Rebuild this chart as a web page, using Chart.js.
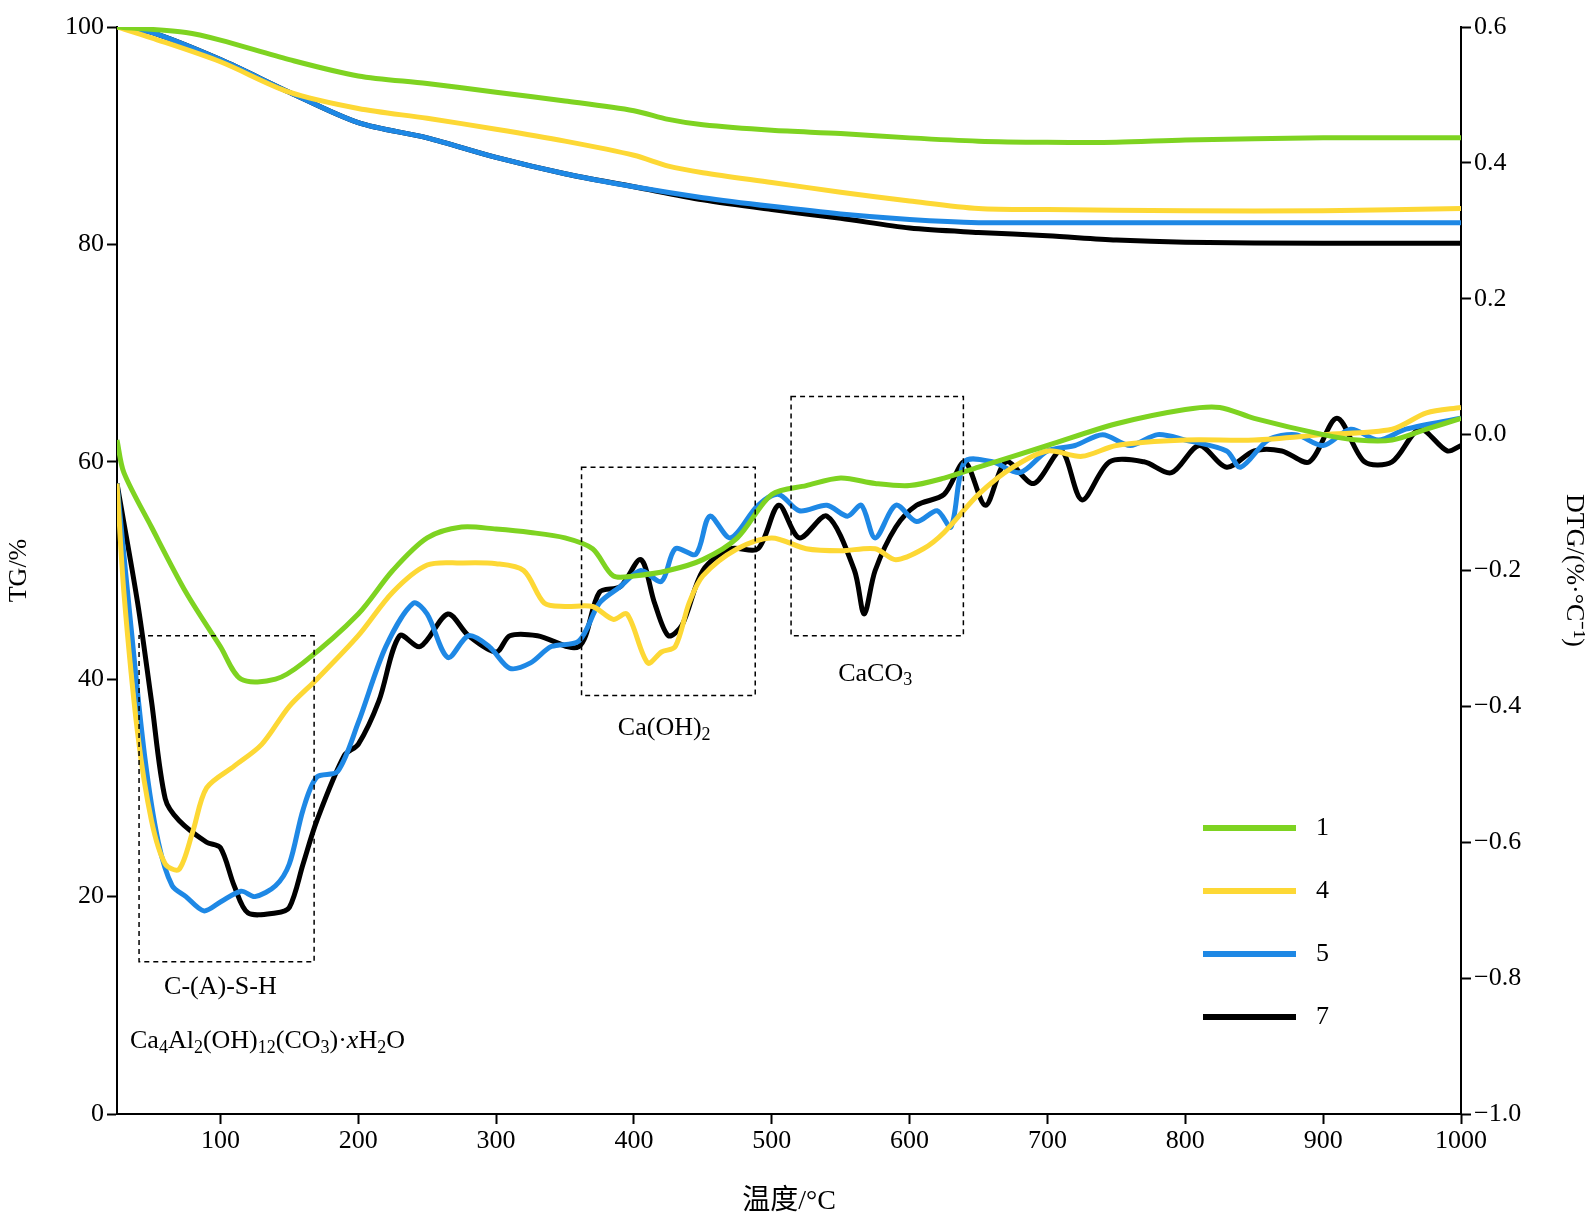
<!DOCTYPE html>
<html>
<head>
<meta charset="utf-8">
<script src="https://cdn.jsdelivr.net/npm/chart.js@4"></script>
<style>
  body { margin: 0; background: #fff; }
  #wrap { width: 1593px; height: 1222px; }
</style>
</head>
<body>
<div id="wrap"><canvas id="c" width="1593" height="1222"></canvas></div>
<script>
// TG curves (%), x = temperature (°C)
const tgX1 = [25, 75, 100, 150, 200, 250, 300, 350, 400, 425, 450, 500, 550, 600, 650, 700, 750, 800, 900, 1000];
const tg1 = [100, 99.5, 98.8, 97, 95.5, 94.8, 94, 93.2, 92.3, 91.5, 91, 90.5, 90.2, 89.8, 89.5, 89.4, 89.4, 89.6, 89.8, 89.8];
const tgX4 = [25, 50, 100, 150, 200, 250, 300, 350, 400, 425, 450, 500, 550, 600, 650, 700, 800, 900, 1000];
const tg4 = [100, 99, 96.8, 94, 92.5, 91.6, 90.6, 89.5, 88.2, 87.2, 86.6, 85.7, 84.8, 84, 83.3, 83.2, 83.1, 83.1, 83.3];
const tgX5 = [25, 50, 100, 150, 200, 250, 300, 350, 400, 450, 500, 550, 600, 650, 700, 800, 1000];
const tg5 = [100, 99.5, 97, 94, 91.2, 89.8, 88, 86.5, 85.3, 84.3, 83.5, 82.8, 82.3, 82, 82, 82, 82];
const tgX7 = [25, 50, 100, 150, 200, 250, 300, 350, 400, 450, 500, 550, 600, 650, 700, 750, 800, 900, 1000];
const tg7 = [100, 99.5, 97, 94, 91.2, 89.8, 88, 86.5, 85.3, 84.1, 83.2, 82.4, 81.5, 81.1, 80.8, 80.4, 80.2, 80.1, 80.1];

// DTG curves (%·°C⁻¹)
const dtgX1 = [25, 30, 50, 75, 100, 115, 140, 160, 200, 225, 250, 275, 300, 325, 350, 370, 385, 400, 425, 450, 475, 500, 525, 550, 575, 600, 625, 650, 700, 750, 800, 825, 850, 900, 925, 950, 975, 1000];
const dtg1 = [-0.008, -0.056, -0.136, -0.232, -0.312, -0.36, -0.36, -0.336, -0.264, -0.2, -0.152, -0.136, -0.139, -0.144, -0.152, -0.168, -0.208, -0.208, -0.2, -0.184, -0.152, -0.088, -0.075, -0.064, -0.072, -0.075, -0.064, -0.048, -0.016, 0.016, 0.037, 0.04, 0.024, 0, -0.008, -0.008, 0.008, 0.024];
const dtgX4 = [25, 30, 40, 50, 60, 70, 80, 90, 110, 130, 150, 170, 200, 225, 250, 275, 300, 320, 335, 350, 370, 385, 395, 410, 420, 430, 440, 450, 475, 500, 525, 550, 575, 590, 610, 625, 650, 675, 700, 725, 750, 800, 850, 900, 950, 975, 1000];
const dtg4 = [-0.072, -0.232, -0.44, -0.568, -0.632, -0.64, -0.584, -0.52, -0.488, -0.456, -0.4, -0.36, -0.296, -0.232, -0.192, -0.189, -0.19, -0.2, -0.248, -0.253, -0.253, -0.272, -0.264, -0.336, -0.32, -0.312, -0.248, -0.208, -0.168, -0.152, -0.168, -0.171, -0.168, -0.184, -0.168, -0.144, -0.088, -0.048, -0.024, -0.032, -0.016, -0.008, -0.008, 0, 0.008, 0.032, 0.04];
const dtgX5 = [25, 35, 45, 55, 65, 75, 88, 100, 115, 125, 140, 150, 160, 170, 185, 200, 220, 240, 250, 265, 280, 295, 310, 325, 340, 360, 375, 390, 405, 420, 430, 445, 455, 470, 490, 505, 520, 540, 555, 565, 575, 590, 605, 620, 630, 640, 660, 680, 700, 720, 740, 760, 780, 800, 830, 840, 860, 880, 900, 920, 940, 960, 1000];
const dtg5 = [-0.072, -0.28, -0.472, -0.6, -0.664, -0.68, -0.701, -0.688, -0.672, -0.68, -0.664, -0.632, -0.552, -0.504, -0.496, -0.424, -0.312, -0.248, -0.264, -0.328, -0.296, -0.312, -0.344, -0.336, -0.312, -0.304, -0.248, -0.224, -0.2, -0.216, -0.168, -0.176, -0.12, -0.152, -0.104, -0.088, -0.112, -0.104, -0.12, -0.104, -0.152, -0.104, -0.128, -0.112, -0.136, -0.04, -0.04, -0.056, -0.024, -0.016, 0, -0.016, 0, -0.008, -0.024, -0.048, -0.008, 0, -0.016, 0.008, -0.008, 0.008, 0.024];
const dtgX7 = [25, 40, 50, 60, 70, 90, 100, 110, 120, 140, 150, 160, 170, 190, 200, 215, 230, 245, 265, 280, 300, 310, 330, 360, 375, 390, 405, 415, 425, 435, 450, 470, 490, 505, 520, 540, 560, 567, 575, 590, 605, 625, 640, 655, 670, 690, 710, 725, 745, 770, 790, 810, 830, 850, 870, 890, 910, 930, 950, 970, 990, 1000];
const dtg7 = [-0.072, -0.248, -0.392, -0.536, -0.568, -0.6, -0.608, -0.664, -0.704, -0.704, -0.696, -0.632, -0.568, -0.472, -0.456, -0.392, -0.296, -0.312, -0.264, -0.296, -0.32, -0.296, -0.296, -0.312, -0.232, -0.224, -0.184, -0.248, -0.296, -0.28, -0.2, -0.168, -0.168, -0.104, -0.152, -0.12, -0.2, -0.264, -0.2, -0.136, -0.104, -0.088, -0.04, -0.104, -0.04, -0.072, -0.024, -0.096, -0.04, -0.04, -0.056, -0.016, -0.048, -0.024, -0.024, -0.04, 0.024, -0.04, -0.04, 0.008, -0.024, -0.016];

const seriesNames = ["1", "4", "5", "7"];
const seriesColors = ["#7ed321", "#fdd835", "#1e88e5", "#000000"];

// dashed boxes [x0, x1, tgTop, tgBottom]
const boxes = [[41, 168, 44, 14], [362, 488, 59.5, 38.5], [514, 639, 66, 44]];

const FONT = "'Liberation Serif', 'Noto Sans CJK SC', serif";

const pts = (xs, ys) => xs.map((x, i) => ({ x: x, y: ys[i] }));
const line = (label, data, color, axis) => ({
  label: label, data: data, borderColor: color, borderWidth: 5,
  pointRadius: 0, fill: false, tension: 0.3, yAxisID: axis
});

const datasets = [
  line("1", pts(tgX1, tg1), seriesColors[0], "y"),
  line("4", pts(tgX4, tg4), seriesColors[1], "y"),
  line("5", pts(tgX5, tg5), seriesColors[2], "y"),
  line("7", pts(tgX7, tg7), seriesColors[3], "y"),
  line("1", pts(dtgX1, dtg1), seriesColors[0], "y2"),
  line("4", pts(dtgX4, dtg4), seriesColors[1], "y2"),
  line("5", pts(dtgX5, dtg5), seriesColors[2], "y2"),
  line("7", pts(dtgX7, dtg7), seriesColors[3], "y2")
];

// boxes, labels and legend
const extras = {
  id: "extras",
  afterDatasetsDraw(chart) {
    const { ctx, scales: { x, y }, chartArea: a } = chart;
    ctx.save();
    ctx.strokeStyle = "#000";
    ctx.lineWidth = 1.5;
    ctx.setLineDash([5, 4]);
    boxes.forEach(b => {
      const x0 = x.getPixelForValue(b[0]), x1 = x.getPixelForValue(b[1]);
      const y0 = y.getPixelForValue(b[2]), y1 = y.getPixelForValue(b[3]);
      ctx.strokeRect(x0, y0, x1 - x0, y1 - y0);
    });
    ctx.setLineDash([]);
    ctx.fillStyle = "#000";
    ctx.textBaseline = "middle";
    const sub = (parts, px, py, align) => {
      // parts: [text, isSub, italic]
      let w = 0;
      parts.forEach(p => { ctx.font = (p[2] ? "italic " : "") + (p[1] ? "18px " : "26px ") + FONT; w += ctx.measureText(p[0]).width; });
      let cx = align === "center" ? px - w / 2 : px;
      ctx.textAlign = "left";
      parts.forEach(p => {
        ctx.font = (p[2] ? "italic " : "") + (p[1] ? "18px " : "26px ") + FONT;
        ctx.fillText(p[0], cx, py + (p[1] ? 7 : 0));
        cx += ctx.measureText(p[0]).width;
      });
    };
    sub([["C-(A)-S-H"]], x.getPixelForValue(100), y.getPixelForValue(11.7), "center");
    sub([["Ca"], ["4", 1], ["Al"], ["2", 1], ["(OH)"], ["12", 1], ["(CO"], ["3", 1], [")·"], ["x", 0, 1], ["H"], ["2", 1], ["O"]], a.left + 13, y.getPixelForValue(6.7), "left");
    sub([["Ca(OH)"], ["2", 1]], x.getPixelForValue(422), y.getPixelForValue(35.5), "center");
    sub([["CaCO"], ["3", 1]], x.getPixelForValue(575), y.getPixelForValue(40.5), "center");

    seriesNames.forEach((n, i) => {
      const ly = 828 + i * 63;
      ctx.strokeStyle = seriesColors[i];
      ctx.lineWidth = 6;
      ctx.beginPath(); ctx.moveTo(1203, ly); ctx.lineTo(1296, ly); ctx.stroke();
      ctx.font = "26px " + FONT;
      ctx.textAlign = "left";
      ctx.fillText(n, 1316, ly);
    });
    ctx.restore();
  }
};

const tickGrid = { display: true, drawOnChartArea: false, drawTicks: true, tickLength: 10, tickColor: "#000", tickWidth: 2 };

new Chart(document.getElementById("c"), {
  type: "line",
  data: { datasets: datasets },
  plugins: [extras],
  options: {
    responsive: false,
    animation: false,
    layout: { padding: { top: 27, right: 0, left: 0, bottom: 0 } },
    plugins: { legend: { display: false }, tooltip: { enabled: false } },
    scales: {
      x: {
        type: "linear", min: 25, max: 1000,
        afterBuildTicks: s => { s.ticks = [100, 200, 300, 400, 500, 600, 700, 800, 900, 1000].map(v => ({ value: v })); },
        afterFit: s => { s.height = 108; },
        grid: tickGrid,
        border: { color: "#000", width: 2 },
        ticks: { color: "#000", font: { size: 26, family: FONT }, maxRotation: 0, padding: 2, callback: v => String(v) },
        title: { display: true, text: "温度/°C", color: "#000", font: { size: 28, family: FONT }, padding: { top: 8 } }
      },
      y: {
        position: "left", min: 0, max: 100,
        afterFit: s => { s.width = 117; },
        grid: tickGrid,
        border: { color: "#000", width: 2 },
        ticks: { stepSize: 20, color: "#000", font: { size: 26, family: FONT } },
        title: { display: true, text: "TG/%", color: "#000", font: { size: 26, family: FONT } }
      },
      y2: {
        position: "right", min: -1.0, max: 0.6,
        afterFit: s => { s.width = 132; },
        grid: tickGrid,
        border: { color: "#000", width: 2 },
        ticks: {
          stepSize: 0.2, color: "#000", font: { size: 26, family: FONT },
          callback: v => { const r = Math.round(v * 10) / 10; return r === 0 ? "0.0" : (r < 0 ? "\u2212" + Math.abs(r).toFixed(1) : r.toFixed(1)); }
        },
        title: { display: true, text: "DTG/(%·°C⁻¹)", color: "#000", font: { size: 26, family: FONT }, padding: { top: 4, bottom: 14 } }
      }
    }
  }
});
</script>
</body>
</html>
